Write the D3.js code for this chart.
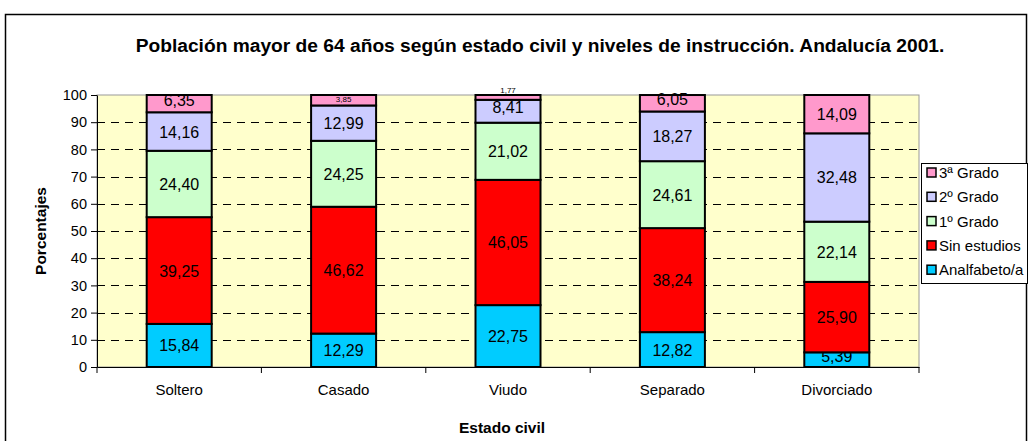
<!DOCTYPE html>
<html>
<head>
<meta charset="utf-8">
<script src="https://cdn.jsdelivr.net/npm/d3@7"></script>
<style>
  body { margin: 0; background: #fff; }
  svg text { font-family: "Liberation Sans", Arial, sans-serif; }
</style>
</head>
<body>
<svg width="1029" height="441"></svg>
<script>
  const categories = ['Soltero', 'Casado', 'Viudo', 'Separado', 'Divorciado'];
  const levels = ['Analfabeto/a', 'Sin estudios', '1º Grado', '2º Grado', '3ª Grado'];
  const analfabeto = [15.84, 12.29, 22.75, 12.82, 5.39];
  const sinEstudios = [39.25, 46.62, 46.05, 38.24, 25.90];
  const grado1 = [24.40, 24.25, 21.02, 24.61, 22.14];
  const grado2 = [14.16, 12.99, 8.41, 18.27, 32.48];
  const grado3 = [6.35, 3.85, 1.77, 6.05, 14.09];
  const yTicks = [0, 10, 20, 30, 40, 50, 60, 70, 80, 90, 100];
  const colors = ['#00CCFF', '#FF0000', '#CCFFCC', '#CCCCFF', '#FF99CC'];

  const series = [analfabeto, sinEstudios, grado1, grado2, grado3];
  const table = categories.map((c, i) => {
    const row = {cat: c};
    levels.forEach((l, k) => row[l] = series[k][i]);
    return row;
  });
  const stacked = d3.stack().keys(levels)(table);

  const svg = d3.select('svg');
  const plot = {left: 97, right: 919, top: 95, bottom: 367};

  // chart border
  svg.append('rect')
    .attr('x', 5.5).attr('y', 14.5)
    .attr('width', 1021).attr('height', 440)
    .attr('fill', 'none').attr('stroke', '#000').attr('stroke-width', 1.5);

  svg.append('text')
    .attr('x', 540).attr('y', 52)
    .attr('text-anchor', 'middle')
    .style('font-size', '19.2px').style('font-weight', 'bold')
    .text('Población mayor de 64 años según estado civil y niveles de instrucción. Andalucía 2001.');

  const xb = d3.scaleBand().domain(categories).range([plot.left, plot.right]);
  const y = d3.scaleLinear().domain([0, 100]).range([plot.bottom, plot.top]);

  // plot background
  svg.append('rect')
    .attr('x', plot.left).attr('y', plot.top)
    .attr('width', plot.right - plot.left).attr('height', plot.bottom - plot.top)
    .attr('fill', '#FFFFCC').attr('stroke', '#999').attr('stroke-width', 1);

  // dashed grid
  svg.append('g')
    .selectAll('line')
    .data(yTicks.filter(t => t > 0 && t < 100))
    .join('line')
      .attr('x1', plot.left).attr('x2', plot.right)
      .attr('y1', d => Math.round(y(d)) + 0.5).attr('y2', d => Math.round(y(d)) + 0.5)
      .attr('stroke', '#000').attr('stroke-dasharray', '8,6');

  // bars
  const layers = svg.append('g').selectAll('g')
    .data(stacked)
    .join('g')
      .attr('fill', (d, i) => colors[i]);
  layers.selectAll('rect')
    .data(d => d)
    .join('rect')
      .attr('x', d => xb(d.data.cat) + (xb.bandwidth() - 65) / 2)
      .attr('width', 65)
      .attr('y', d => y(d[1]))
      .attr('height', d => y(d[0]) - y(d[1]))
      .attr('stroke', '#000').attr('stroke-width', 2);

  // value labels
  const fmt = v => v.toFixed(2).replace('.', ',');
  layers.selectAll('text')
    .data(d => d)
    .join('text')
      .attr('x', d => xb(d.data.cat) + xb.bandwidth() / 2)
      .attr('y', d => {
        const v = d[1] - d[0];
        if (v < 2) return y(d[1]) - 2;
        if (v < 5) return y(d[1]) + 7;
        if (v < 9) return (y(d[0]) + y(d[1])) / 2 + 2;
        return (y(d[0]) + y(d[1])) / 2 + 6;
      })
      .attr('text-anchor', 'middle')
      .attr('fill', '#000')
      .style('font-size', d => (d[1] - d[0]) < 5 ? '8px' : '16px')
      .text(d => fmt(d[1] - d[0]));

  // y axis
  const yAxis = svg.append('g')
    .attr('transform', `translate(${plot.left},0)`)
    .call(d3.axisLeft(y).tickValues(yTicks).tickSize(6).tickPadding(4).tickSizeOuter(0));
  yAxis.select('.domain').attr('stroke', '#000');
  yAxis.selectAll('text').style('font-size', '14.5px').attr('fill', '#000')
    .attr('font-family', '"Liberation Sans", Arial, sans-serif');

  // x axis
  const xAxis = svg.append('g')
    .attr('transform', `translate(0,${plot.bottom})`)
    .call(d3.axisBottom(xb).tickSize(0).tickPadding(17));
  xAxis.select('.domain').attr('stroke', '#000');
  xAxis.selectAll('text').style('font-size', '15px').attr('fill', '#000')
    .attr('font-family', '"Liberation Sans", Arial, sans-serif');
  xAxis.selectAll('.sep')
    .data(categories.concat(['end']))
    .join('line')
      .attr('class', 'sep')
      .attr('x1', (d, i) => plot.left + i * xb.bandwidth())
      .attr('x2', (d, i) => plot.left + i * xb.bandwidth())
      .attr('y1', 0).attr('y2', 6)
      .attr('stroke', '#000');

  svg.append('text')
    .attr('transform', `translate(46,${(plot.top + plot.bottom) / 2}) rotate(-90)`)
    .attr('text-anchor', 'middle')
    .style('font-size', '15.5px').style('font-weight', 'bold')
    .text('Porcentajes');

  svg.append('text')
    .attr('x', 502).attr('y', 433)
    .attr('text-anchor', 'middle')
    .style('font-size', '15.5px').style('font-weight', 'bold')
    .text('Estado civil');

  // legend
  const legend = svg.append('g');
  legend.append('rect')
    .attr('x', 921.5).attr('y', 163.5).attr('width', 106).attr('height', 120)
    .attr('fill', '#fff').attr('stroke', '#000');
  const items = levels.slice().reverse();
  const li = legend.selectAll('g.item')
    .data(items)
    .join('g')
      .attr('class', 'item')
      .attr('transform', (d, i) => `translate(927,${173 + i * 24.3})`);
  li.append('rect')
    .attr('x', 0).attr('y', -5).attr('width', 9).attr('height', 9)
    .attr('fill', d => colors[levels.indexOf(d)])
    .attr('stroke', '#000').attr('stroke-width', 1.5);
  li.append('text')
    .attr('x', 12).attr('y', 5)
    .style('font-size', '15px')
    .text(d => d);
</script>
</body>
</html>
